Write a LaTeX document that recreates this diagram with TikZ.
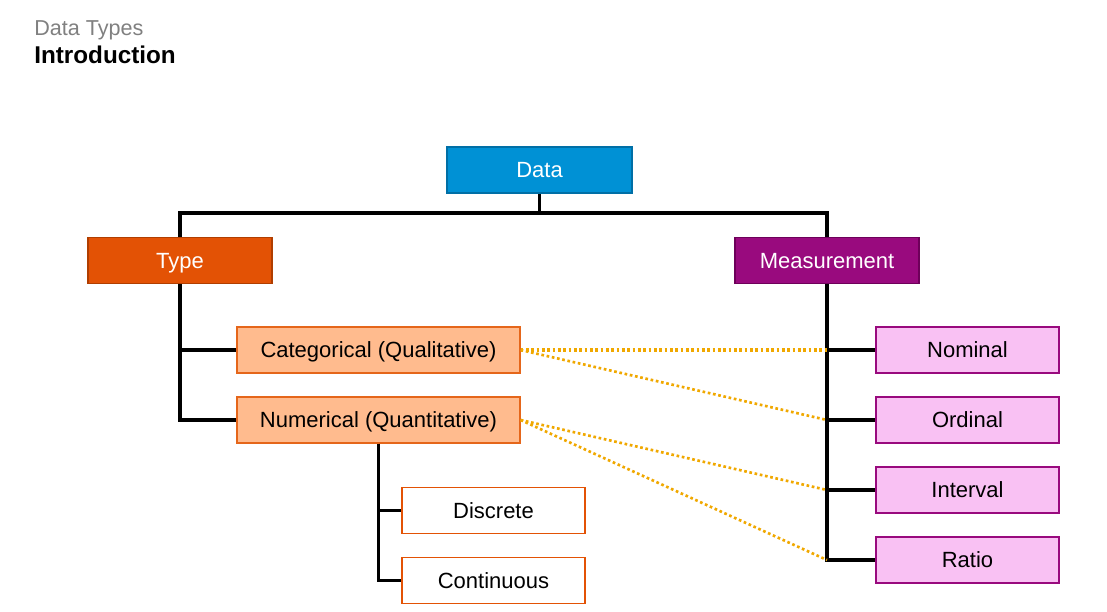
\documentclass[tikz,border=0pt]{standalone}
\usepackage{fontspec}
\setmainfont{Liberation Sans}
\usetikzlibrary{positioning}

\definecolor{dataBlue}{HTML}{0091D5}
\definecolor{dataBlueEdge}{HTML}{006FA6}
\definecolor{typeOrange}{HTML}{E35205}
\definecolor{typeOrangeEdge}{HTML}{B03E00}
\definecolor{measPurple}{HTML}{990A7E}
\definecolor{measPurpleEdge}{HTML}{6E005A}
\definecolor{catPeach}{HTML}{FFBB8E}
\definecolor{catPeachEdge}{HTML}{E5661A}
\definecolor{levelPink}{HTML}{F9C1F3}
\definecolor{linkGold}{HTML}{F0A800}

\begin{document}
\begin{tikzpicture}[x=0.75pt,y=-0.75pt,
    box/.style={shape=rectangle,minimum height=34.5pt,inner sep=0pt,
      text height=11.8pt,text depth=0pt,
      font=\fontsize{16.5}{20}\selectfont},
    topbox/.style={box,minimum width=138.75pt,fill=dataBlue,draw=dataBlueEdge,line width=1.2pt,text=white},
    headbox/.style={box,minimum width=138pt,line width=1.2pt,text=white},
    kindbox/.style={box,minimum width=212.25pt,fill=catPeach,draw=catPeachEdge,line width=0.9pt},
    subbox/.style={box,minimum width=137.25pt,fill=white,draw=typeOrange,line width=1.4pt},
    levelbox/.style={box,minimum width=137.25pt,fill=levelPink,draw=measPurple,line width=0.8pt},
    tree/.style={draw=black,line width=2.7pt},
    link/.style={draw=linkGold,line width=2pt,dotted}]
  \useasboundingbox (0,0) rectangle (1107,611);

  % title
  \node[anchor=base west,inner sep=0pt,text=black!50,font=\fontsize{16.2}{20}\selectfont] (ttl) at (34,35) {Data Types};
  \node[anchor=base west,inner sep=0pt,font=\fontsize{18.2}{22}\bfseries] (sub) at (34,63) {Introduction};

  % boxes
  \node[topbox] (Dt) at (539.5,170) {Data};
  \node[headbox,fill=typeOrange,draw=typeOrangeEdge] (T) at (180,260.5) {Type};
  \node[headbox,fill=measPurple,draw=measPurpleEdge] (M) at (827,260.5) {Measurement};

  \node[kindbox] (C) at (378.5,350) {Categorical (Qualitative)};
  \node[kindbox] (N) at (378.5,420) {Numerical (Quantitative)};

  \node[subbox] (Di) at (493.5,510.5) {Discrete};
  \node[subbox] (Co) at (493.5,580.5) {Continuous};

  \node[levelbox] (No) at (967.5,350) {Nominal};
  \node[levelbox] (Or) at (967.5,420) {Ordinal};
  \node[levelbox] (In) at (967.5,490) {Interval};
  \node[levelbox] (Ra) at (967.5,560) {Ratio};

  % tree lines
  \coordinate (J) at (539.5,213);
  \draw[tree] (Dt.south) -- (J);
  \draw[tree] (T.north) -- (T.north |- J) -| (M.north);
  \draw[tree] (T.south) |- (C.west);
  \draw[tree] (T.south) |- (N.west);
  \draw[tree] (N.south) |- (Di.west);
  \draw[tree] (N.south) |- (Co.west);
  \draw[tree] (M.south) |- (No.west);
  \draw[tree] (M.south) |- (Or.west);
  \draw[tree] (M.south) |- (In.west);
  \draw[tree] (M.south) |- (Ra.west);

  % dotted links
  \draw[link,line width=2.8pt] (C.east) -- (M.south |- No.west);
  \draw[link] (C.east) -- (M.south |- Or.west);
  \draw[link] (N.east) -- (M.south |- In.west);
  \draw[link] (N.east) -- (M.south |- Ra.west);
\end{tikzpicture}
\end{document}
